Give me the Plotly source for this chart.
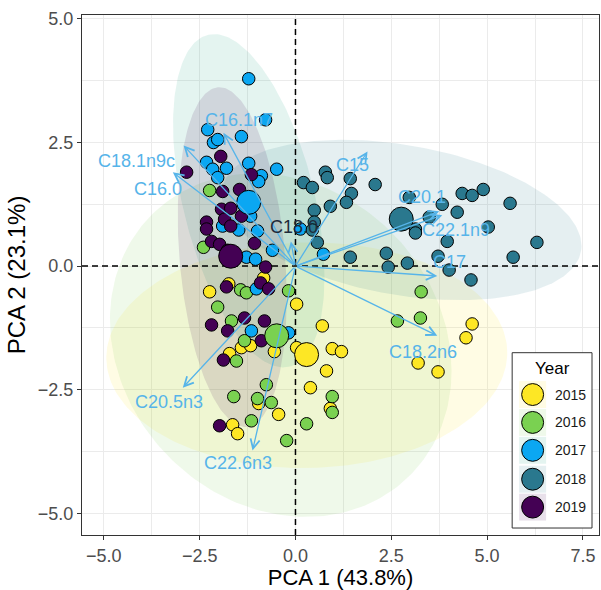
import numpy as np
import plotly.graph_objects as go

# ---------------- data ----------------
years = ["2015", "2016", "2017", "2018", "2019"]
year_colors = ["#FDE725", "#7AD151", "#0BA7F2", "#2A788E", "#440154"]
ellipse_colors = ["#FDE725", "#7AD151", "#22A884", "#2A788E", "#440154"]

pc1_2015 = [-0.83, -1.74, -2.24, 0.03, 0.70, 0.03, 0.96, 1.20, 0.81, 0.39, 0.91, -1.41,
            -1.17, -0.55, -1.72, -0.96, -0.44, -1.64, -1.51, 3.20, 3.72, 4.61, 4.45]
pc2_2015 = [-0.24, -0.36, -0.52, -0.77, -1.21, -1.65, -1.67, -1.73, -2.12, -2.46, -2.88, -1.65,
            -1.61, -1.73, -1.77, -2.78, -3.00, -3.21, -3.39, -1.96, -2.14, -1.17, -1.45]

pc1_2016 = [-2.24, -2.40, -1.43, -1.28, -0.18, -2.03, -1.67, -1.33, -1.54, -0.76, -1.61,
            -0.99, -0.63, -1.15, -0.23, 0.29, 0.96, 0.96, 2.66, 3.26, 3.28]
pc2_2016 = [1.53, 0.38, -0.48, -0.54, -0.50, -0.83, -1.11, -1.51, -1.92, -2.40, -2.64,
            -2.68, -2.76, -3.13, -3.53, -3.19, -2.64, -2.96, -1.11, -1.05, -0.52]

pc1_2017 = [-1.22, -0.78, -2.29, -1.41, -2.14, -2.03, -2.32, -1.22, -0.49, -2.16, -1.80, -0.89, -2.03,
            -0.96, -1.17, -1.90, -1.48, -0.99, -0.60, -1.28, -1.04, -1.02, -1.15, -0.18, 0.13, 0.73]
pc2_2017 = [3.79, 2.96, 2.76, 2.62, 2.50, 2.56, 2.10, 2.08, 1.96, 1.96, 1.98, 1.83, 1.79,
            1.71, 1.01, 0.81, 0.73, 0.71, 0.32, 0.18, 0.14, -0.46, -1.31, -1.35, 0.75, 0.24]

pc1_2018 = [0.21, 0.44, 0.78, 0.83, 1.43, 1.46, 2.08, 1.33, 0.91, 0.49, 0.49, 0.44, 0.57, 1.43, 2.37,
            2.42, 2.92, 2.97, 3.13, 3.13, 3.49, 3.83, 4.22, 3.96, 3.72, 4.01, 4.35, 4.61, 4.90, 5.60,
            5.03, 6.30, 5.68, 4.58]
pc2_2018 = [1.69, 1.59, 1.90, 1.79, 1.77, 1.47, 1.65, 1.29, 1.21, 1.13, 0.89, 0.73, 0.48, 0.18, 0.26,
            -0.02, 0.06, 1.39, 0.75, 0.67, 0.99, 1.25, 1.09, 0.50, 0.20, -0.08, 1.47, 1.43, 1.55, 1.27,
            0.79, 0.48, 0.18, -0.28]

pc1_2019 = [-1.95, -2.84, -1.15, -1.90, -1.46, -1.93, -1.69, -1.85, -1.41, -2.32, -2.32, -1.69, -2.19,
            -1.98, -1.77, -1.07, -0.78, -0.91, -1.80, -0.70, -1.33, -0.81, -2.19, -1.77, -0.89, -1.88, -1.98]
pc2_2019 = [2.22, 1.90, 1.85, 1.51, 1.55, 1.15, 1.17, 0.95, 1.01, 0.89, 0.75, 0.81, 0.50,
            0.44, 0.32, 0.46, -0.02, -0.34, -0.42, -0.46, -1.05, -1.11, -1.19, -1.31, -1.51, -1.90, -3.23]

centroid_pc1 = [0.29, -0.49, -1.22, 2.76, -1.69]
centroid_pc2 = [-1.79, -1.41, 1.29, 0.95, 0.20]

loading_names = ["C16.1n7", "C18.1n9c", "C16.0", "C18.0", "C15", "C20.1", "C22.1n9",
                 "C17", "C18.2n6", "C20.5n3", "C22.6n3"]
loading_pc1 = [-1.88, -2.92, -3.20, -0.12, 1.88, 3.75, 3.83, 3.70, 3.70, -2.94, -1.12]
loading_pc2 = [2.70, 2.44, 1.90, 0.50, 2.32, 1.11, 1.03, -0.20, -1.41, -2.46, -3.73]
label_pc1 = [-1.47, -4.14, -3.58, -0.05, 1.48, 3.31, 4.19, 4.01, 3.33, -3.31, -1.51]
label_pc2 = [2.96, 2.12, 1.55, 0.79, 2.04, 1.39, 0.73, 0.08, -1.73, -2.74, -3.99]
label_colors = ["#56B4E9"] * 3 + ["#1E2B3A"] + ["#56B4E9"] * 7

x_ticks = [-5.0, -2.5, 0.0, 2.5, 5.0, 7.5]
y_ticks = [-5.0, -2.5, 0.0, 2.5, 5.0]
x_range = [-5.57, 7.92]
y_range = [-5.44, 5.08]

pc1_by_year = [pc1_2015, pc1_2016, pc1_2017, pc1_2018, pc1_2019]
pc2_by_year = [pc2_2015, pc2_2016, pc2_2017, pc2_2018, pc2_2019]

# ---------------- style ----------------
FONT = "Liberation Sans, Arial, Helvetica, sans-serif"
ARROW_COL = "#56B4E9"
ELLIPSE_RADIUS = 2.6  # ~95% normal ellipse
ELL_ALPHA = 0.12
W, H = 601, 590
ML, MR, MT, MB = 82, 1, 15, 53
PW, PH = W - ML - MR, H - MT - MB


def rgba(hex_col, a):
    h = hex_col.lstrip("#")
    r, g, b = int(h[0:2], 16), int(h[2:4], 16), int(h[4:6], 16)
    return f"rgba({r},{g},{b},{a})"


def ellipse_path(x, y, r=ELLIPSE_RADIUS, n=240):
    x = np.asarray(x, float)
    y = np.asarray(y, float)
    cov = np.cov(x, y)
    L = np.linalg.cholesky(cov)
    t = np.linspace(0, 2 * np.pi, n)
    circ = np.vstack([np.cos(t), np.sin(t)])
    pts = (L @ circ) * r
    return x.mean() + pts[0], y.mean() + pts[1]


def px(xp):
    return (xp - ML) / PW


def py(yp):
    return (H - MB - yp) / PH


fig = go.Figure()

# ellipses
for yr, col, xs, ys in zip(years, ellipse_colors, pc1_by_year, pc2_by_year):
    ex, ey = ellipse_path(xs, ys)
    fig.add_trace(go.Scatter(x=ex, y=ey, mode="lines", fill="toself",
                             fillcolor=rgba(col, ELL_ALPHA), line=dict(width=0, color=rgba(col, 0)),
                             hoverinfo="skip", showlegend=False))

# reference dashed lines
fig.add_trace(go.Scatter(x=x_range, y=[0, 0], mode="lines",
                         line=dict(color="black", width=1.5, dash="6px,4px"),
                         hoverinfo="skip", showlegend=False))
fig.add_trace(go.Scatter(x=[0, 0], y=y_range, mode="lines",
                         line=dict(color="black", width=1.5, dash="6px,4px"),
                         hoverinfo="skip", showlegend=False))

# individual points
for yr, col, xs, ys in zip(years, year_colors, pc1_by_year, pc2_by_year):
    fig.add_trace(go.Scatter(x=xs, y=ys, mode="markers", name=yr,
                             marker=dict(size=12.5, color=col, line=dict(color="black", width=1)),
                             showlegend=False))

# centroids
fig.add_trace(go.Scatter(x=centroid_pc1, y=centroid_pc2, mode="markers",
                         marker=dict(size=24, color=year_colors, line=dict(color="black", width=1)),
                         showlegend=False))

# loading arrows
for nm, lx, ly in zip(loading_names, loading_pc1, loading_pc2):
    fig.add_annotation(x=lx, y=ly, ax=0, ay=0, xref="x", yref="y", axref="x", ayref="y",
                       showarrow=True, arrowhead=5, arrowsize=1.4, arrowwidth=1.3,
                       arrowcolor=ARROW_COL, text="", standoff=0)
for nm, tx, ty, tc in zip(loading_names, label_pc1, label_pc2, label_colors):
    fig.add_annotation(x=tx, y=ty, xref="x", yref="y", text=nm, showarrow=False,
                       font=dict(family=FONT, size=18, color=tc), xanchor="center", yanchor="middle")

# custom legend
legend_y = [396, 424, 452, 481, 509]
fig.add_shape(type="rect", xref="paper", yref="paper", x0=px(513), x1=px(593), y0=py(530), y1=py(354),
              line=dict(color="#333333", width=1), fillcolor="white", layer="above")
fig.add_annotation(x=px(553), y=py(370), xref="paper", yref="paper", text="Year", showarrow=False,
                   font=dict(family=FONT, size=17, color="black"), xanchor="center", yanchor="middle")
for yr, col, ecol, yc in zip(years, year_colors, ellipse_colors, legend_y):
    fig.add_shape(type="rect", xref="paper", yref="paper", x0=px(520), x1=px(547),
                  y0=py(yc + 13.5), y1=py(yc - 13.5), line=dict(width=0), fillcolor=rgba(ecol, ELL_ALPHA),
                  layer="above")
    fig.add_shape(type="circle", xref="paper", yref="paper", x0=px(522.5), x1=px(544.5),
                  y0=py(yc + 11), y1=py(yc - 11), line=dict(color="black", width=1), fillcolor=col,
                  layer="above")
    fig.add_annotation(x=px(554), y=py(yc), xref="paper", yref="paper", text=yr, showarrow=False,
                       font=dict(family=FONT, size=14, color="#1a1a1a"), xanchor="left", yanchor="middle")

axis_common = dict(showline=True, linecolor="#333333", linewidth=1, mirror=True,
                   ticks="outside", ticklen=4, tickwidth=1, tickcolor="#333333",
                   showgrid=True, gridcolor="#EBEBEB", gridwidth=1.1, zeroline=False,
                   tickfont=dict(family=FONT, size=18, color="#4D4D4D"), tickformat=".1f")

fig.update_layout(
    width=W, height=H, margin=dict(l=ML, r=MR, t=MT, b=MB),
    paper_bgcolor="white", plot_bgcolor="white", showlegend=False,
    font=dict(family=FONT),
    xaxis=dict(range=x_range, tickvals=x_ticks,
               minor=dict(dtick=1.25, tick0=0, showgrid=True, gridcolor="#EBEBEB", gridwidth=0.6, ticklen=0),
               title=dict(text="PCA 1 (43.8%)", font=dict(family=FONT, size=22, color="black"), standoff=8),
               **axis_common),
    yaxis=dict(range=y_range, tickvals=y_ticks,
               minor=dict(dtick=1.25, tick0=0, showgrid=True, gridcolor="#EBEBEB", gridwidth=0.6, ticklen=0),
               title=dict(text="PCA 2 (23.1%)", font=dict(family=FONT, size=24, color="black"), standoff=5),
               **axis_common),
)

fig.write_html("out.html", config={"displayModeBar": False},
               post_script="document.body.style.margin='0';document.body.style.overflow='hidden';")
